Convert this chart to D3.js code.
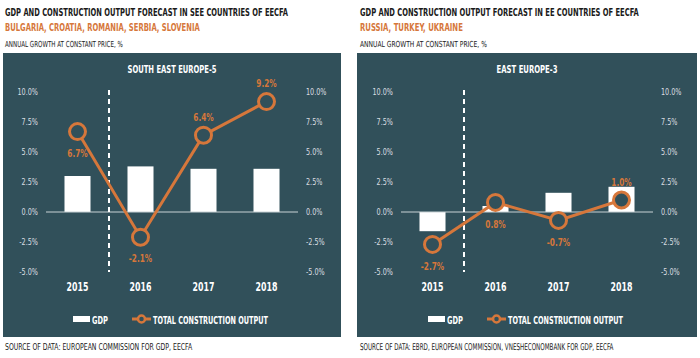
<!DOCTYPE html>
<html>
<head>
<meta charset="utf-8">
<script src="https://cdn.jsdelivr.net/npm/d3@7"></script>
<style>
  html, body { margin: 0; padding: 0; background: #ffffff; }
  svg { display: block; }
  text { font-family: "DejaVu Sans Condensed", "Liberation Sans Narrow", sans-serif; }
</style>
</head>
<body>
<svg id="chart" width="700" height="358"></svg>
<script>
// ---- Data ----
const years = ["2015", "2016", "2017", "2018"];
const seeGdp = [3.0, 3.8, 3.6, 3.6];
const seeConstruction = [6.7, -2.1, 6.4, 9.2];
const eeGdp = [-1.6, 0.5, 1.6, 2.1];
const eeConstruction = [-2.7, 0.8, -0.7, 1.0];
const yTicks = [-5, -2.5, 0, 2.5, 5, 7.5, 10];
const legendLabels = ["GDP", "TOTAL CONSTRUCTION OUTPUT"];

const ORANGE = "#d6773b";
const PANEL = "#31505a";
const TICK = "#d9dde0";

const svg = d3.select("#chart");

// text with a horizontal squeeze so its width matches the target (condensed look)
function squeezed(parent, x, y, str, w, size, opts = {}) {
  const t = parent.append("text")
    .attr("font-size", size)
    .attr("font-weight", opts.bold ? "bold" : null)
    .attr("fill", opts.fill || "#1a1a1a")
    .attr("text-anchor", opts.anchor || "start")
    .text(str);
  const L = t.node().getComputedTextLength();
  const sx = L > 0 ? Math.min(1, w / L) : 1;
  t.attr("transform", `translate(${x},${y}) scale(${sx.toFixed(3)},1)`);
  return t;
}

const pct = d => d3.format(".1f")(d).replace("\u2212", "-") + "%";

const panels = [
  {
    dx: 0, panelX: 3, panelW: 338,
    title: "GDP AND CONSTRUCTION OUTPUT FORECAST IN SEE COUNTRIES OF EECFA", titleW: 283,
    sub: "BULGARIA, CROATIA, ROMANIA, SERBIA, SLOVENIA", subW: 195,
    note: "ANNUAL GROWTH AT CONSTANT PRICE, %", noteW: 118,
    source: "SOURCE OF DATA: EUROPEAN COMMISSION FOR GDP, EECFA", sourceW: 187,
    chartTitle: "SOUTH EAST EUROPE-5", chartTitleW: 89,
    gdp: seeGdp, cons: seeConstruction,
    labelPos: ["below", "below", "above", "above"]
  },
  {
    dx: 355, panelX: 357, panelW: 340,
    title: "GDP AND CONSTRUCTION OUTPUT FORECAST IN EE COUNTRIES OF EECFA", titleW: 279,
    sub: "RUSSIA, TURKEY, UKRAINE", subW: 103,
    note: "ANNUAL GROWTH AT CONSTANT PRICE, %", noteW: 127,
    source: "SOURCE OF DATA: EBRD, EUROPEAN COMMISSION, VNESHECONOMBANK FOR GDP, EECFA", sourceW: 253,
    chartTitle: "EAST EUROPE-3", chartTitleW: 61,
    gdp: eeGdp, cons: eeConstruction,
    labelPos: ["below", "below", "below", "above"]
  }
];

panels.forEach(p => {
  const hx = p.dx === 0 ? 5 : 360;
  // headers
  squeezed(svg, hx, 16, p.title, p.titleW, 9.8, { bold: true });
  squeezed(svg, hx, 31, p.sub, p.subW, 11, { bold: true, fill: ORANGE });
  squeezed(svg, hx, 46.5, p.note, p.noteW, 8.3);
  squeezed(svg, hx, 350, p.source, p.sourceW, 9.4);

  // panel background
  svg.append("rect").attr("x", p.panelX).attr("y", 53)
    .attr("width", p.panelW).attr("height", 284).attr("fill", PANEL);

  const g = svg.append("g").attr("transform", `translate(${p.dx},0)`);

  const x = d3.scaleBand().domain(years).range([46, 298])
    .paddingInner(0.587).paddingOuter(0.2935);
  const y = d3.scaleLinear().domain([-5, 10]).range([272, 92]);

  // chart title
  squeezed(g, 172, 72.5, p.chartTitle, p.chartTitleW, 10, { bold: true, fill: "#ffffff", anchor: "middle" });

  // axes
  const left = g.append("g").attr("transform", "translate(38,0)")
    .call(d3.axisLeft(y).tickValues(yTicks).tickFormat(pct).tickSize(0).tickPadding(0));
  const right = g.append("g").attr("transform", "translate(306,0)")
    .call(d3.axisRight(y).tickValues(yTicks).tickFormat(pct).tickSize(0).tickPadding(0));
  [left, right].forEach(a => {
    a.select(".domain").remove();
    a.selectAll("text").attr("font-size", 9.2).attr("fill", TICK)
      .attr("font-family", "'DejaVu Sans Condensed', sans-serif")
      .attr("transform", "scale(0.78,1)");
  });

  // GDP bars
  g.selectAll(".bar").data(p.gdp).join("rect")
    .attr("x", (d, i) => x(years[i]))
    .attr("width", x.bandwidth())
    .attr("y", d => y(Math.max(0, d)))
    .attr("height", d => Math.abs(y(d) - y(0)))
    .attr("fill", "#ffffff");

  // zero baseline
  g.append("line").attr("x1", 46).attr("x2", 298)
    .attr("y1", y(0)).attr("y2", y(0))
    .attr("stroke", "#c9d2d5").attr("stroke-width", 1);

  // dashed forecast separator
  const sepX = (x(years[0]) + x(years[1]) + x.bandwidth()) / 2;
  g.append("line").attr("x1", sepX).attr("x2", sepX)
    .attr("y1", y(10) - 2).attr("y2", y(-5))
    .attr("stroke", "#ffffff").attr("stroke-width", 2).attr("stroke-dasharray", "5,4");

  // year labels
  const xAxis = g.append("g").attr("transform", "translate(0,287)")
    .call(d3.axisBottom(x).tickSize(0).tickPadding(0));
  xAxis.select(".domain").remove();
  xAxis.selectAll("text").attr("font-size", 11.5).attr("font-weight", "bold")
    .attr("fill", "#ffffff").attr("dy", "0.36em")
    .attr("font-family", "'DejaVu Sans Condensed', sans-serif")
    .attr("transform", "scale(0.76,1)");

  // construction line
  const cx = (d, i) => x(years[i]) + x.bandwidth() / 2;
  const line = d3.line().x(cx).y(d => y(d));
  g.append("path").datum(p.cons).attr("d", line)
    .attr("fill", "none").attr("stroke", ORANGE).attr("stroke-width", 3);
  g.selectAll(".pt").data(p.cons).join("circle")
    .attr("cx", cx).attr("cy", d => y(d)).attr("r", 8)
    .attr("fill", PANEL).attr("stroke", ORANGE).attr("stroke-width", 3);
  g.selectAll(".lbl").data(p.cons).join("text")
    .attr("transform", (d, i) =>
      `translate(${cx(d, i)},${y(d) + (p.labelPos[i] === "above" ? -18 : 21.5)}) scale(0.8,1)`)
    .attr("dy", "0.36em")
    .attr("text-anchor", "middle").attr("font-size", 10.2).attr("font-weight", "bold")
    .attr("fill", ORANGE)
    .text(pct);

  // legend
  g.append("rect").attr("x", 73).attr("y", 316).attr("width", 17).attr("height", 6)
    .attr("fill", "#ffffff");
  squeezed(g, 92, 323.5, legendLabels[0], 16, 11, { bold: true, fill: "#ffffff" });
  g.append("line").attr("x1", 132).attr("x2", 151).attr("y1", 319).attr("y2", 319)
    .attr("stroke", ORANGE).attr("stroke-width", 3);
  g.append("circle").attr("cx", 141.5).attr("cy", 319).attr("r", 3.5)
    .attr("fill", PANEL).attr("stroke", ORANGE).attr("stroke-width", 2.5);
  squeezed(g, 153, 323.5, legendLabels[1], 115, 11, { bold: true, fill: "#ffffff" });
});
</script>
</body>
</html>
